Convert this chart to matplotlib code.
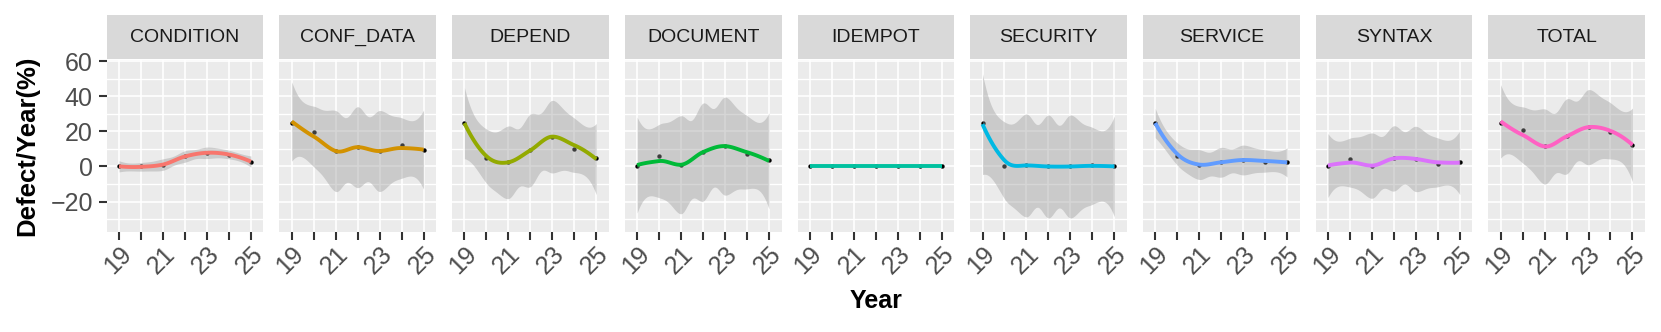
import math
import numpy as np
import matplotlib
matplotlib.use("Agg")
import matplotlib.pyplot as plt

# ---------------- data ----------------
years = [19, 20, 21, 22, 23, 24, 25]
tick_labels = ["19", "", "21", "", "23", "", "25"]
categories = ["CONDITION", "CONF_DATA", "DEPEND", "DOCUMENT", "IDEMPOT",
              "SECURITY", "SERVICE", "SYNTAX", "TOTAL"]
condition = [0.0, 0.2, 1.1, 5.7, 7.8, 6.8, 2.8]
conf_data = [25.0, 19.4, 8.8, 11.0, 8.8, 12.0, 9.2]
depend = [25.0, 4.8, 2.4, 9.2, 17.0, 9.9, 4.8]
document = [0.0, 6.2, 1.0, 8.2, 11.6, 6.9, 3.5]
idempot = [0.0, 0.0, 0.0, 0.0, 0.0, 0.0, 0.0]
security = [25.0, 0.0, 0.6, 0.0, 0.0, 0.6, 0.0]
service = [25.0, 6.2, 1.1, 2.4, 3.7, 2.8, 2.4]
syntax = [0.0, 4.3, 0.5, 4.6, 4.3, 1.6, 2.4]
total = [25.0, 20.5, 11.4, 17.1, 22.4, 19.9, 12.4]
series = [condition, conf_data, depend, document, idempot,
          security, service, syntax, total]
colors = ["#F8766D", "#D39200", "#93AA00", "#00BA38", "#00C19F",
          "#00B9E3", "#619CFF", "#DB72FB", "#FF61C3"]

# R's loess uses approximated delta statistics ("approximate"); this factor
# reproduces the wider 95% band it gives relative to the exact computation.
APPROX_BAND = 1.6


# ---------------- loess smoother (like ggplot2 geom_smooth) ----------------
def local_rows(x, v, span=0.75):
    n = len(x)
    q = int(math.floor(n * span))
    d = np.abs(x - v)
    h = np.sort(d)[q - 1]
    w = np.where(d < 0.999 * h, (1 - (d / h) ** 3) ** 3, 0.0)
    X = np.vstack([np.ones(n), x - v, (x - v) ** 2]).T
    XtW = X.T * w
    B = np.linalg.pinv(XtW @ X) @ XtW
    return B[0], B[1]


def operator(x, xs, verts, rows):
    L = np.zeros((len(xs), len(x)))
    for j, xv in enumerate(xs):
        k = np.searchsorted(verts, xv, side="right") - 1
        k = min(max(k, 0), len(verts) - 2)
        a, b = verts[k], verts[k + 1]
        dlt = b - a
        t = (xv - a) / dlt
        p0 = (1 - t) ** 2 * (1 + 2 * t)
        p1 = t ** 2 * (3 - 2 * t)
        s0 = t * (1 - t) ** 2
        s1 = -t ** 2 * (1 - t)
        L[j] = (p0 * rows[k][0] + p1 * rows[k + 1][0]
                + dlt * (s0 * rows[k][1] + s1 * rows[k + 1][1]))
    return L


def qt975(df):
    G = math.exp(math.lgamma((df + 1) / 2) - math.lgamma(df / 2)) / math.sqrt(math.pi)
    N = 400000
    edges = np.linspace(0, math.pi / 2, N + 1)
    mid = 0.5 * (edges[:-1] + edges[1:])
    f = np.cos(mid) ** (df - 1) * (edges[1] - edges[0]) * G
    c = np.cumsum(f)
    j = min(np.searchsorted(c, 0.475), N - 1)
    phi = edges[j + 1]
    return math.sqrt(df) * math.tan(min(phi, math.pi / 2 - 1e-9))


def loess_smooth(xv, yv, npts=80):
    x = np.asarray(xv, float)
    y = np.asarray(yv, float)
    mu = 0.005 * (x.max() - x.min())
    verts = np.array([x.min() - mu] + list(x[:-1]) + [x.max() + mu])
    rows = [local_rows(x, v) for v in verts]
    Ld = operator(x, x, verts, rows)
    xs = np.linspace(x.min(), x.max(), npts)
    Lx = operator(x, xs, verts, rows)
    fit = Lx @ y
    IL = np.eye(len(x)) - Ld
    M = IL.T @ IL
    one = np.trace(M)
    two = np.trace(M @ M)
    res = y - Ld @ y
    s = math.sqrt(np.sum(res ** 2) / one)
    df = one ** 2 / two
    half = APPROX_BAND * qt975(df) * s * np.sqrt(np.sum(Lx ** 2, axis=1))
    return xs, fit, fit - half, fit + half


# ---------------- figure ----------------
W, H = 1661, 332
fig = plt.figure(figsize=(W / 100, H / 100), dpi=100)
plt.rcParams["font.family"] = ["Liberation Sans", "DejaVu Sans"]

p_left, p_w, p_step = 106.7, 156.7, 172.7
p_top, p_bot = 60.0, 231.7
s_top, s_bot = 15.0, 59.3

for i, (cat, vals, col) in enumerate(zip(categories, series, colors)):
    left = p_left + i * p_step
    ax = fig.add_axes([left / W, (H - p_bot) / H, p_w / W, (p_bot - p_top) / H])
    sax = fig.add_axes([left / W, (H - s_bot) / H, p_w / W, (s_bot - s_top) / H])

    ax.set_facecolor("#EBEBEB")
    for sp in ax.spines.values():
        sp.set_visible(False)
    ax.set_xlim(18.44, 25.57)
    ax.set_ylim(-37.1, 60.6)
    ax.set_xticks(years)
    ax.set_xticklabels(tick_labels)
    ax.set_yticks([-20, 0, 20, 40, 60])
    ax.set_yticks([-30, -10, 10, 30, 50], minor=True)
    ax.set_axisbelow(True)
    ax.grid(True, which="major", color="white", lw=1.2)
    ax.grid(True, which="minor", axis="y", color="white", lw=1.0)
    ax.tick_params(axis="x", which="major", length=5.5, width=1.5,
                   color="#333333", labelsize=18, labelcolor="#4D4D4D", pad=2)
    ax.tick_params(axis="y", which="minor", length=0)
    for lab in ax.get_xticklabels():
        lab.set_rotation(45)
        lab.set_ha("right")
        lab.set_va("top")
        lab.set_rotation_mode("anchor")
    if i == 0:
        ax.tick_params(axis="y", which="major", length=5.5, width=1.5,
                       color="#333333", labelsize=18, labelcolor="#4D4D4D", pad=4.5)
        ax.set_yticklabels(["\u221220", "0", "20", "40", "60"])
    else:
        ax.tick_params(axis="y", which="major", length=0, labelleft=False)

    # points, ribbon, line (ggplot drawing order)
    ax.scatter(years, vals, s=10, color="black", zorder=2, linewidths=0)
    xs, fit, lo, hi = loess_smooth(years, vals)
    ax.fill_between(xs, lo, hi, color="#999999", alpha=0.4, lw=0, zorder=3)
    ax.plot(xs, fit, color=col, lw=2.8, zorder=4, solid_capstyle="butt")

    # strip
    sax.set_facecolor("#D9D9D9")
    sax.set_xticks([])
    sax.set_yticks([])
    for sp in sax.spines.values():
        sp.set_visible(False)
    sax.text(0.5, 0.5, cat, ha="center", va="center", fontsize=14,
             color="#1A1A1A", transform=sax.transAxes)

fig.text(27 / W, 1 - 146 / H, "Defect/Year(%)", rotation=90, ha="center",
         va="center", fontsize=18.5, fontweight="bold", color="black")
fig.text(876 / W, 1 - 301 / H, "Year", ha="center", va="center",
         fontsize=18, fontweight="bold", color="black")

fig.savefig("out.png", dpi=100)
